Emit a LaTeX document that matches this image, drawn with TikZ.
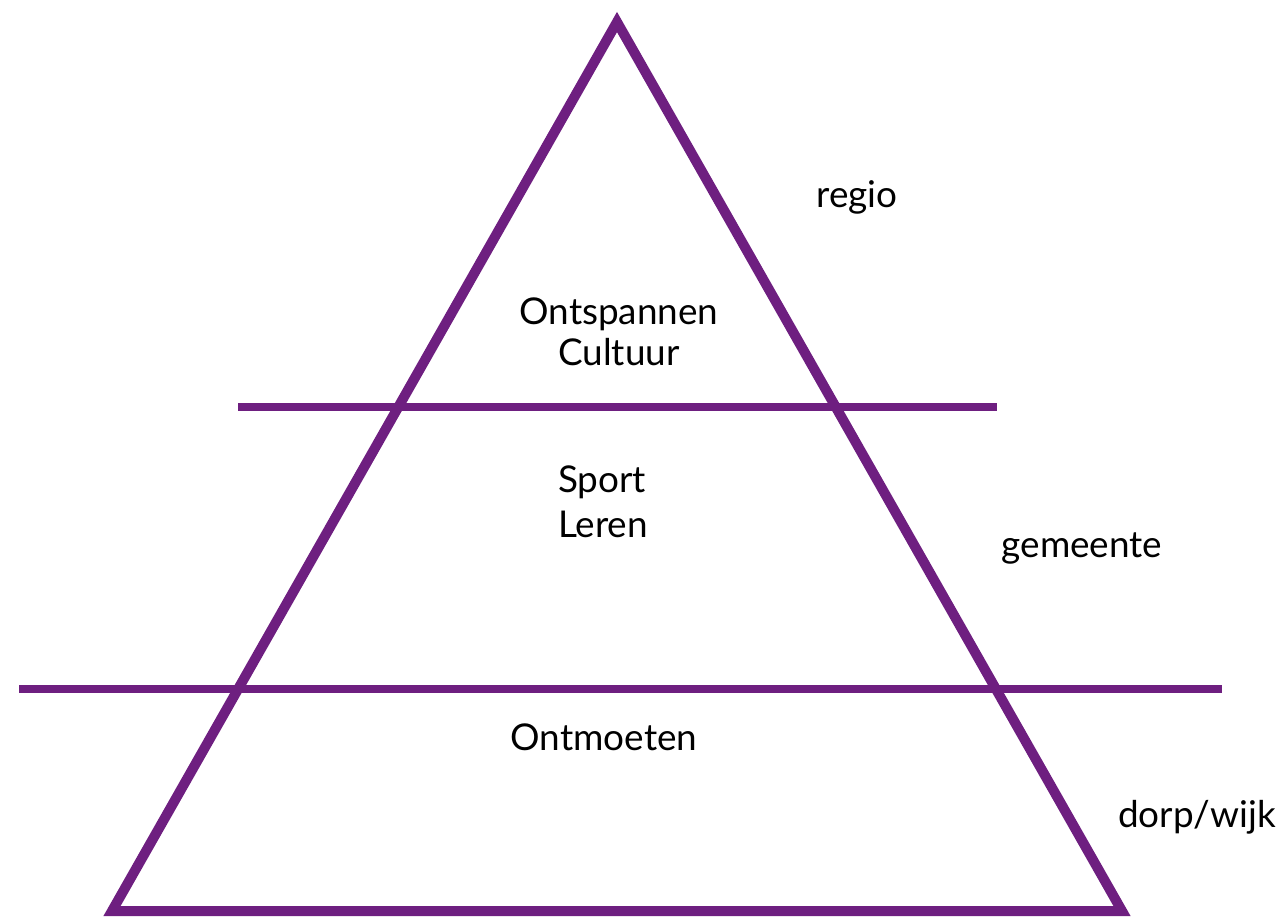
\documentclass[tikz,border=0pt]{standalone}
\usepackage{fontspec}
\setmainfont{Lato}
\definecolor{paars}{RGB}{110,31,128}

\begin{document}
\begin{tikzpicture}[x=0.02cm,y=-0.02cm,
        lijn/.style={draw=paars,line width=0.2cm},
        laag/.style={font=\fontsize{21pt}{22.8pt}\selectfont,inner sep=0pt,anchor=base}]
        \useasboundingbox (0,0) rectangle (1285,917);

        \coordinate (T) at (617,22);
        \coordinate (L) at (112,911);
        \coordinate (R) at (1122,911);

        \coordinate (A1) at (238,407);
        \coordinate (B1) at (997,407);
        \coordinate (A2) at (19,689);
        \coordinate (B2) at (1222,689);

        \draw [lijn, line join=miter] (T) -- (R) -- (L) -- cycle;
        \draw [lijn, line width=0.17cm] (A1) -- (B1);
        \draw [lijn, line width=0.17cm] (A2) -- (B2);

        \node[laag, align=center] (top) at (619,365) {Ontspannen\\Cultuur};
        \node[laag, align=left] (mid) at (603,537) {Sport\\[2.8pt]Leren};
        \node[laag] (bot) at (604,750) {Ontmoeten};

        \node[laag] (regio) at (857,207) {regio};
        \node[laag] (gem) at (1082,557) {gemeente};
        \node[laag] (dorp) at (1197,827) {dorp/wijk};
    \end{tikzpicture}
\end{document}
